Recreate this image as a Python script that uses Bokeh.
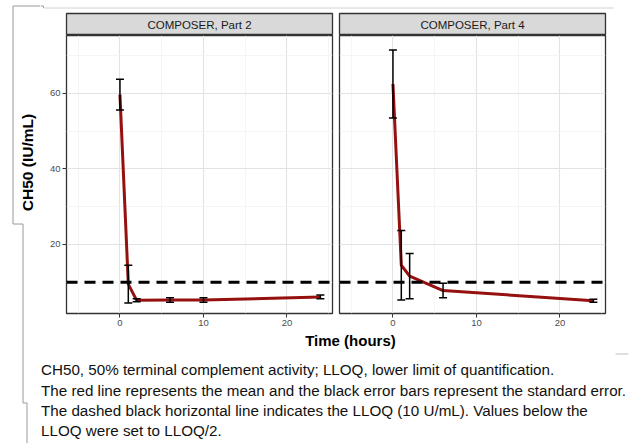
import math
from bokeh.plotting import figure
from bokeh.layouts import row, column
from bokeh.models import Range1d, FixedTicker, Whisker, TeeHead, Span, ColumnDataSource
from bokeh.core.properties import value
from bokeh.embed import file_html
from bokeh.resources import INLINE

# ---------------- data ----------------
panel_labels = ["COMPOSER, Part 2", "COMPOSER, Part 4"]
time_part2 = [0, 1, 2, 6, 10, 24]
mean_part2 = [59.7, 9.5, 5.2, 5.3, 5.3, 6.1]
se_part2 = [4.1, 5.0, 0.4, 0.6, 0.6, 0.5]
time_part4 = [0, 1, 2, 6, 24]
mean_part4 = [62.5, 14.5, 11.6, 7.8, 5.1]
se_part4 = [9.0, 9.2, 6.0, 1.9, 0.4]
lloq = 10
x_ticks = [0, 10, 20]
x_minor = [-5, 5, 15, 25]
y_ticks = [20, 40, 60]
y_minor = [10, 30, 50, 70]
x_title = "Time (hours)"
y_title = "CH50 (IU/mL)"
caption_lines = [
    "CH50, 50% terminal complement activity; LLOQ, lower limit of quantification.",
    "The red line represents the mean and the black error bars represent the standard error.",
    "The dashed black horizontal line indicates the LLOQ (10 U/mL). Values below the",
    "LLOQ were set to LLOQ/2.",
]

FONT = "Liberation Sans"
RED = "#961010"


def blank(width, height, xr, yr):
    f = figure(width=width, height=height, x_range=Range1d(*xr), y_range=Range1d(*yr),
               x_axis_location=None, y_axis_location=None, toolbar_location=None,
               output_backend="svg", min_border=0)
    f.grid.visible = False
    f.outline_line_color = None
    f.background_fill_color = "white"
    f.border_fill_color = "white"
    return f


def make_strip(label, left, right):
    s = figure(frame_width=266, frame_height=22, x_range=Range1d(0, 1), y_range=Range1d(0, 1),
               x_axis_location=None, y_axis_location=None, toolbar_location=None,
               output_backend="svg", min_border_left=left, min_border_right=right,
               min_border_top=1, min_border_bottom=0)
    s.grid.visible = False
    s.background_fill_color = "#d9d9d9"
    s.border_fill_color = "white"
    s.outline_line_color = "#333333"
    s.outline_line_width = 1.3
    s.text(x=[0.5], y=[0.5], text=[label], text_font=value(FONT), text_font_size="11.5px",
           text_color="#1a1a1a", text_align="center", text_baseline="middle")
    return s


def make_panel(t, m, se, show_y, left, right):
    p = figure(frame_width=266, frame_height=278,
               x_range=Range1d(-6.4, 25.45), y_range=Range1d(1.72, 75.36),
               y_axis_location="left" if show_y else None,
               min_border_left=left, min_border_right=right,
               min_border_top=0, min_border_bottom=20,
               toolbar_location=None, output_backend="svg")
    p.background_fill_color = "white"
    p.border_fill_color = "white"
    p.outline_line_color = "#333333"
    p.outline_line_width = 1.3
    p.xgrid.ticker = FixedTicker(ticks=x_ticks, minor_ticks=x_minor)
    p.ygrid.ticker = FixedTicker(ticks=y_ticks, minor_ticks=y_minor)
    p.grid.grid_line_color = "#e3e3e3"
    p.grid.grid_line_width = 1.1
    p.grid.minor_grid_line_color = "#f0f0f0"
    p.grid.minor_grid_line_width = 0.7
    p.xaxis.ticker = FixedTicker(ticks=x_ticks)
    if show_y:
        p.yaxis.ticker = FixedTicker(ticks=y_ticks)
    p.axis.axis_line_color = None
    p.axis.major_tick_line_color = "#333333"
    p.axis.major_tick_out = 4
    p.axis.major_tick_in = 0
    p.axis.minor_tick_line_color = None
    p.axis.major_label_text_font = FONT
    p.axis.major_label_text_font_size = "9.5px"
    p.axis.major_label_text_color = "#4d4d4d"
    p.axis.major_label_standoff = 2

    p.line(t, m, line_color=RED, line_width=3, line_join="round")
    src = ColumnDataSource(dict(t=t,
                                lower=[a - b for a, b in zip(m, se)],
                                upper=[a + b for a, b in zip(m, se)]))
    w = Whisker(source=src, base="t", lower="lower", upper="upper", dimension="height",
                line_color="black", line_width=1.5, level="annotation",
                lower_head=TeeHead(size=8, line_color="black", line_width=1.5),
                upper_head=TeeHead(size=8, line_color="black", line_width=1.5))
    p.add_layout(w)
    p.add_layout(Span(location=lloq, dimension="width", line_color="black",
                      line_width=3, line_dash="11 7"))
    return p


# left decoration + y title (page x 0..40, y 0..443)
left_fig = blank(40, 443, (0, 40), (443, 0))
left_fig.line([40, 12.5, 12.5, 22.5, 22.5, 26.5, 26.5],
              [5.5, 5.5, 223.5, 223.5, 402.5, 402.5, 443],
              line_color="#9a9a9a", line_width=1)
left_fig.text(x=[27], y=[162], text=[y_title], angle=math.pi / 2,
              text_font=value(FONT), text_font_style="bold", text_font_size="15.5px",
              text_color="black", text_align="center", text_baseline="middle")

# top decoration line (page x 40..630, y 0..12)
top_fig = blank(590, 12, (40, 630), (12, 0))
top_fig.line([40, 43, 43], [5.5, 5.5, 7.5], line_color="#9a9a9a", line_width=1)
top_fig.line([43, 613], [7.5, 7.5], line_color="#d2d2d2", line_width=1)

s1 = make_strip(panel_labels[0], 26, 4)
s2 = make_strip(panel_labels[1], 3, 25)
p1 = make_panel(time_part2, mean_part2, se_part2, True, 26, 4)
p2 = make_panel(time_part4, mean_part4, se_part4, False, 3, 25)

# caption area (page x 40..630, y 333..443)
cap_fig = blank(590, 110, (40, 630), (443, 333))
cap_fig.text(x=[350], y=[340], text=[x_title], text_font=value(FONT), text_font_style="bold",
             text_font_size="15px", text_color="black", text_align="center", text_baseline="middle")
cap_fig.text(x=[40.5] * len(caption_lines), y=[369, 390, 410, 430], text=caption_lines,
             text_font=value(FONT), text_font_size="15.2px", text_color="#111111",
             text_align="left", text_baseline="middle")
cap_fig.line([615, 628], [353.5, 353.5], line_color="#c0c0c0", line_width=1)

layout = row(left_fig, column(top_fig, row(column(s1, p1), column(s2, p2)), cap_fig))

with open("out.html", "w") as fh:
    fh.write(file_html(layout, INLINE))
